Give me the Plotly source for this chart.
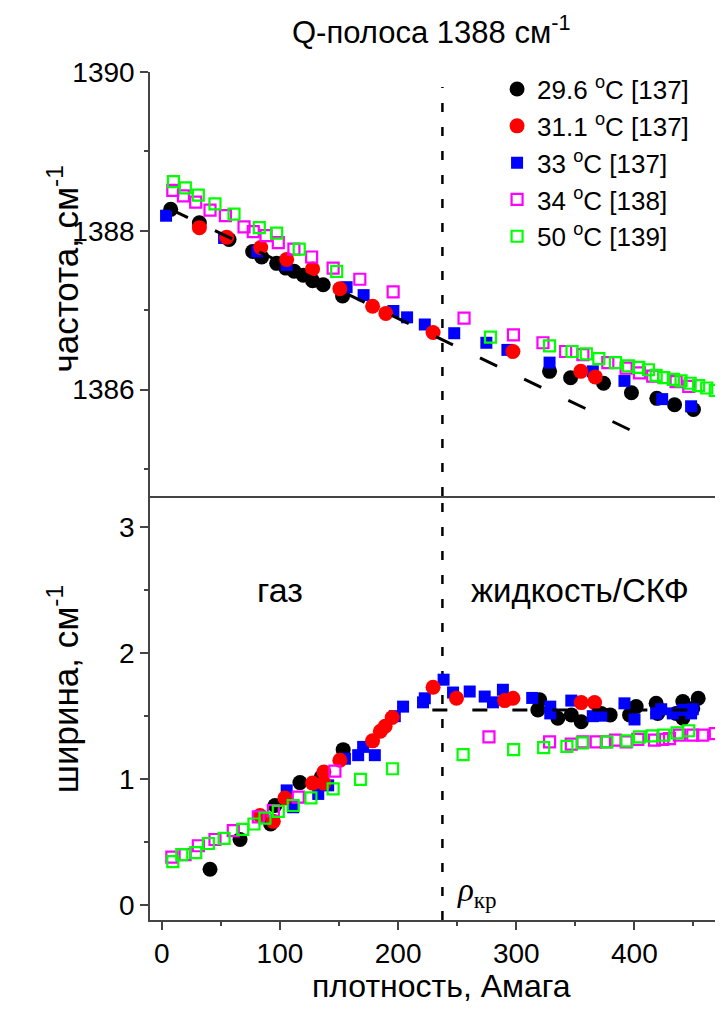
import plotly.graph_objects as go

# ---------------- data ----------------
# top panel: frequency, cm^-1
f29_x = [7.5, 31.8, 56.9, 76.9, 84.5, 97.2, 105, 112, 119.7, 127.6, 136.6, 153, 328.2, 346, 373.9, 397.5, 419, 434, 450]
f29_y = [1388.27, 1388.10, 1387.89, 1387.74, 1387.67, 1387.59, 1387.53, 1387.49, 1387.44, 1387.37, 1387.32, 1387.18,
         1386.23, 1386.15, 1386.08, 1385.96, 1385.89, 1385.81, 1385.75]
f31_x = [31.8, 54.9, 83.7, 105.7, 127.6, 150.7, 178.4, 189.6, 229.6, 297.2, 354.6, 366.9]
f31_y = [1388.04, 1387.92, 1387.79, 1387.64, 1387.52, 1387.27, 1387.05, 1386.96, 1386.72, 1386.48, 1386.23, 1386.16]
f33_x = [3.6, 52.7, 80.8, 105.7, 156.4, 170.8, 196, 207.6, 222.6, 247.5, 274.7, 292.5, 328.2, 364.8, 391.6, 423.5, 448]
f33_y = [1388.19, 1387.91, 1387.74, 1387.57, 1387.29, 1387.19, 1386.99, 1386.91, 1386.82, 1386.71, 1386.59, 1386.50,
         1386.34, 1386.23, 1386.11, 1385.88, 1385.79]
f34_x = [9.3, 18.3, 28.7, 40.8, 53.8, 69.6, 77.4, 88.2, 98.6, 111.8, 126.8, 145, 167.6, 195.8, 255.8, 297.6, 322.6,
         341.8, 356.4, 377.5, 393, 404.3, 415.5, 435.3, 446]
f34_y = [1388.51, 1388.44, 1388.36, 1388.26, 1388.19, 1388.05, 1387.99, 1387.94, 1387.85, 1387.77, 1387.67, 1387.53,
         1387.39, 1387.23, 1386.90, 1386.69, 1386.59, 1386.48, 1386.44, 1386.34, 1386.27, 1386.21, 1386.17, 1386.10, 1386.04]
f50_x = [9.8, 19.9, 30.9, 45, 61.1, 82.5, 97.2, 116.3, 148, 278.2, 328.2, 347.2, 359.3, 369.9, 384, 395, 403.7, 411.9,
         418.4, 424.9, 433, 439.5, 447.2, 454.4, 461.2, 468.5]
f50_y = [1388.62, 1388.54, 1388.45, 1388.34, 1388.21, 1388.04, 1387.97, 1387.77, 1387.49, 1386.66, 1386.55, 1386.48,
         1386.45, 1386.39, 1386.34, 1386.30, 1386.28, 1386.25, 1386.18, 1386.15, 1386.13, 1386.11, 1386.08, 1386.05,
         1386.02, 1385.99]
fit_top_x = [7.6, 398]
fit_top_y = [1388.27, 1385.48]

# bottom panel: width, cm^-1
w29_x = [40.8, 66.2, 92.1, 95.8, 116.9, 135, 153.5, 318.3, 319.8, 335.2, 346.6, 355, 371.9, 379.5, 395.9, 401.5,
         418.4, 419.8, 435.3, 441, 441, 449.4, 454]
w29_y = [0.283, 0.52, 0.643, 0.79, 0.972, 1.016, 1.234, 1.55, 1.63, 1.483, 1.51, 1.456, 1.522, 1.51, 1.51, 1.576,
         1.602, 1.522, 1.522, 1.616, 1.483, 1.562, 1.642]
w31_x = [83.1, 94.4, 104.2, 127.6, 137.2, 137.2, 150.7, 178.4, 185, 189, 195, 229.6, 249.4, 290.2, 297.2, 355, 366.3]
w31_y = [0.71, 0.664, 0.85, 0.968, 1.056, 0.968, 1.15, 1.304, 1.38, 1.42, 1.49, 1.73, 1.642, 1.624, 1.642, 1.608, 1.608]
w33_x = [105.7, 111.2, 132.4, 140.8, 155, 166.2, 170.4, 180.3, 197.2, 204.2, 221.1, 222.6, 238.5, 246.5, 260.6,
         273.3, 280.3, 288.7, 313.5, 328.8, 328.8, 346.6, 364.8, 371.9, 391.6, 400.1, 418.4, 422.7, 432.5, 441, 448, 449.4]
w33_y = [0.91, 0.776, 0.882, 0.95, 1.162, 1.19, 1.256, 1.19, 1.5, 1.576, 1.61, 1.642, 1.79, 1.688, 1.696, 1.656,
         1.61, 1.71, 1.645, 1.576, 1.522, 1.624, 1.5, 1.504, 1.602, 1.474, 1.522, 1.555, 1.522, 1.55, 1.522, 1.555]
w34_x = [8.5, 19.7, 30.9, 45, 60.5, 81.7, 94.4, 115.5, 146.5, 276.9, 328.2, 346.6, 356.4, 367.7, 376.2, 384, 393,
         402.9, 417, 424, 429.7, 438.1, 449.4, 457.8, 468.5]
w34_y = [0.38, 0.40, 0.47, 0.52, 0.59, 0.70, 0.75, 0.856, 1.064, 1.336, 1.296, 1.278, 1.296, 1.296, 1.296, 1.31,
         1.296, 1.315, 1.31, 1.315, 1.322, 1.35, 1.35, 1.35, 1.362]
w50_x = [9.3, 16.9, 28.7, 39.4, 52.7, 68.5, 78, 87.3, 98.6, 111.2, 126.2, 145, 168.2, 195.3, 255, 297.8, 323.2,
         342.9, 355.9, 376.7, 393.6, 404.3, 415, 424.9, 436.2, 446]
w50_y = [0.344, 0.40, 0.416, 0.488, 0.528, 0.60, 0.643, 0.69, 0.744, 0.79, 0.85, 0.922, 0.997, 1.082, 1.195, 1.234,
         1.25, 1.26, 1.288, 1.296, 1.304, 1.336, 1.344, 1.35, 1.368, 1.384]
fit_bot_x = [229, 447]
fit_bot_y = [1.55, 1.55]

rho_cr = 237.5

labels = ["29.6 <sup>o</sup>C [137]", "31.1 <sup>o</sup>C [137]", "33 <sup>o</sup>C [137]",
          "34 <sup>o</sup>C [138]", "50 <sup>o</sup>C [139]"]
colors = ["#000000", "#ff0000", "#0000ff", "#ff00ff", "#00ff00"]

FONT = "Liberation Sans, Arial, sans-serif"
fig = go.Figure()

series = [
    (0, f29_x, f29_y, w29_x, w29_y, dict(symbol="circle", size=15)),
    (2, f33_x, f33_y, w33_x, w33_y, dict(symbol="square", size=12)),
    (1, f31_x, f31_y, w31_x, w31_y, dict(symbol="circle", size=15)),
    (3, f34_x, f34_y, w34_x, w34_y, dict(symbol="square-open", size=11, line=dict(width=2.2))),
    (4, f50_x, f50_y, w50_x, w50_y, dict(symbol="square-open", size=11, line=dict(width=2.2))),
]
for idx, fx, fy, wx, wy, mk in series:
    m = dict(mk, color=colors[idx])
    fig.add_trace(go.Scatter(x=fx, y=fy, mode="markers", xaxis="x", yaxis="y", name=labels[idx],
                             legendgroup=str(idx), legendrank=idx + 1, marker=m))
    fig.add_trace(go.Scatter(x=wx, y=wy, mode="markers", xaxis="x2", yaxis="y2", name=labels[idx],
                             legendgroup=str(idx), showlegend=False, marker=m))

# fit lines (drawn over the markers)
fig.add_trace(go.Scatter(x=fit_top_x, y=fit_top_y, mode="lines", xaxis="x", yaxis="y", showlegend=False,
                         line=dict(color="black", width=3, dash="19px,30px")))
fig.add_trace(go.Scatter(x=fit_bot_x, y=fit_bot_y, mode="lines", xaxis="x2", yaxis="y2", showlegend=False,
                         line=dict(color="black", width=3, dash="15px,25px")))

axcol = "#444444"
TICK = 28
common_x = dict(range=[-10, 475], showgrid=False, zeroline=False, showline=True, linecolor=axcol, linewidth=1.5)
fig.update_layout(
    width=715, height=1006,
    margin=dict(l=142, r=0, t=64, b=94),
    plot_bgcolor="white", paper_bgcolor="white",
    font=dict(family=FONT, size=TICK, color="black"),
    xaxis=dict(common_x, anchor="y", showticklabels=False, ticks=""),
    xaxis2=dict(common_x, anchor="y2", ticks="outside", ticklen=8, tickwidth=1.5, tickcolor=axcol,
                tickvals=[0, 100, 200, 300, 400],
                minor=dict(ticks="outside", ticklen=4, tickwidth=1.5, tickcolor=axcol, tickvals=[50, 150, 250, 350, 450]),
                tickfont=dict(size=TICK)),
    yaxis=dict(domain=[0.5, 1], anchor="x", range=[1384.66, 1390], showgrid=False, zeroline=False, showline=True,
               linecolor=axcol, linewidth=1.5, ticks="outside", ticklen=8, tickwidth=1.5, tickcolor=axcol,
               tickvals=[1386, 1388, 1390],
               minor=dict(ticks="outside", ticklen=4, tickwidth=1.5, tickcolor=axcol, tickvals=[1385, 1387, 1389]),
               tickfont=dict(size=TICK)),
    yaxis2=dict(domain=[0, 0.5], anchor="x2", range=[-0.12, 3.25], showgrid=False, zeroline=False, showline=True,
                linecolor=axcol, linewidth=1.5, ticks="outside", ticklen=8, tickwidth=1.5, tickcolor=axcol,
                tickvals=[0, 1, 2, 3],
                minor=dict(ticks="outside", ticklen=4, tickwidth=1.5, tickcolor=axcol, tickvals=[0.5, 1.5, 2.5]),
                tickfont=dict(size=TICK)),
    legend=dict(x=0.6057, y=1.0075, xanchor="left", yanchor="top", bgcolor="rgba(0,0,0,0)",
                font=dict(size=26), tracegroupgap=0),
    showlegend=True,
)

# critical density vertical dashed line (one piece per panel, under the markers)
vdash = dict(color="black", width=2.5, dash="9px,15px")
fig.add_shape(type="line", xref="x", yref="y", x0=rho_cr, x1=rho_cr, y0=1384.66, y1=1389.81,
              line=vdash, layer="between")
fig.add_shape(type="line", xref="x2", yref="y2", x0=rho_cr, x1=rho_cr, y0=-0.12, y1=3.25,
              line=vdash, layer="between")

ann = [
    dict(text="Q-полоса 1388 см<sup>-1</sup>", xref="paper", yref="paper", x=0.492, y=1.0, yshift=42,
         showarrow=False, font=dict(size=31), xanchor="center", yanchor="middle"),
    dict(text="частота, см<sup>-1</sup>", xref="paper", yref="paper", x=-0.126, y=0.768, textangle=-90,
         showarrow=False, font=dict(size=35), xanchor="center", yanchor="middle", xshift=-15),
    dict(text="ширина, см<sup>-1</sup>", xref="paper", yref="paper", x=-0.126, y=0.272, textangle=-90,
         showarrow=False, font=dict(size=35), xanchor="center", yanchor="middle", xshift=-14),
    dict(text="плотность, Амага", xref="paper", yref="paper", x=0.508, y=0, yshift=-66,
         showarrow=False, font=dict(size=32), xanchor="center", yanchor="middle"),
    dict(text="газ", xref="x2", yref="y2", x=100, y=2.5, showarrow=False, font=dict(size=34)),
    dict(text="жидкость/СКФ", xref="x2", yref="y2", x=354, y=2.5, showarrow=False, font=dict(size=33)),
    dict(text="<i>ρ</i><sub>кр</sub>", xref="x2", yref="y2", x=248, y=0.1, xanchor="left", showarrow=False,
         font=dict(size=33, family="Liberation Serif, serif")),
]
fig.update_layout(annotations=ann)

fig.write_html("out.html")
